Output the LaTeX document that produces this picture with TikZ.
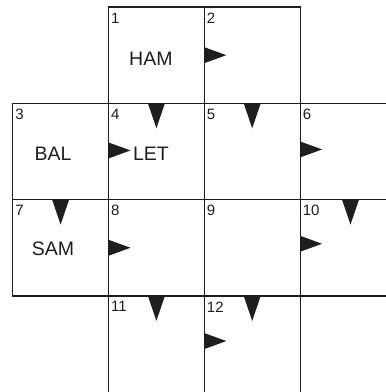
\documentclass[tikz,border=0pt]{standalone}
\usepackage{fontspec}
\setmainfont{Liberation Sans}
\usetikzlibrary{calc}
\definecolor{ink}{HTML}{1E1E1E}
\tikzset{
  cell/.style={draw=ink,line width=1.2pt,minimum width=95.8pt,minimum height=96.3pt,inner sep=0pt,outer sep=0pt},
  num/.style={anchor=north west,inner sep=0pt,text=ink,font=\fontsize{15}{15}\selectfont},
  word/.style={inner sep=0pt,text=ink,font=\fontsize{19.5}{19.5}\selectfont},
  tri/.style={fill=ink,draw=none}
}
\newcommand\dnarrow[1]{\fill[tri] (#1) ++(-8.5,0) -- ++(17,0) -- ++(-8.5,25) -- cycle;}
\newcommand\rtarrow[1]{\fill[tri] (#1) ++(0,-8) -- ++(0,16) -- ++(22,-8) -- cycle;}
\begin{document}
\begin{tikzpicture}[x=1pt,y=-1pt]
\useasboundingbox (0,0) rectangle (386,392);
\clip (0,0) rectangle (386,392);
% cells (column centres 60.6,156.4,252.2,348.0; row centres 55.15,151.45,247.75,344.05)
\node[cell] (c1) at (156.4,55.15) {};
\node[cell] (c2) at (252.2,55.15) {};
\node[cell] (c3) at (60.6,151.45) {};
\node[cell] (c4) at (156.4,151.45) {};
\node[cell] (c5) at (252.2,151.45) {};
\node[cell] (c6) at (348.0,151.45) {};
\node[cell] (c7) at (60.6,247.75) {};
\node[cell] (c8) at (156.4,247.75) {};
\node[cell] (c9) at (252.2,247.75) {};
\node[cell] (c10) at (348.0,247.75) {};
\node[cell] (c11) at (156.4,344.05) {};
\node[cell] (c12) at (252.2,344.05) {};
\node[cell] (c13) at (348.0,344.05) {};
% numbers
\foreach \n in {1,...,12}{
  \node[num] (n\n) at ($(c\n.north west)+(2.5,5.5)$) {\n};
}
% words
\node[word] (wham) at ($(c1.center)+(-5.5,3.5)$) {HAM};
\node[word] (wbal) at ($(c3.center)+(-7.5,2.5)$) {BAL};
\node[word] (wlet) at ($(c4.center)+(-5.5,2)$) {LET};
\node[word] (wsam) at ($(c7.center)+(-7.5,1.5)$) {SAM};
% down arrows
\dnarrow{c4.north}
\dnarrow{c5.north}
\dnarrow{c7.north}
\dnarrow{$(c10.north)+(2.5,0)$}
\dnarrow{c11.north}
\dnarrow{c12.north}
% right arrows
\rtarrow{c2.west}
\rtarrow{$(c4.west)+(0,-1)$}
\rtarrow{$(c6.west)+(0,-2)$}
\rtarrow{c8.west}
\rtarrow{$(c10.west)+(0,-4)$}
\rtarrow{$(c12.west)+(0,-3)$}
\end{tikzpicture}
\end{document}
